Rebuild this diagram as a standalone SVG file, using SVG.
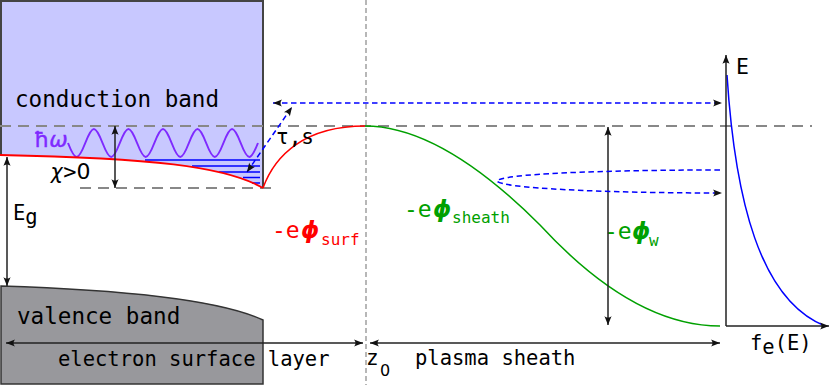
<svg xmlns="http://www.w3.org/2000/svg" width="831" height="385" viewBox="0 0 831 385">
<defs>
<marker id="ah" viewBox="-10 -5 12 10" refX="0" refY="0" markerWidth="12" markerHeight="10" markerUnits="userSpaceOnUse" orient="auto-start-reverse" overflow="visible">
<path d="M0,0 L-9,-3.6 C-7,-1.5 -7,1.5 -9,3.6 Z" fill="#111"/>
</marker>
</defs>
<style>
.mono{font-family:"DejaVu Sans Mono","Liberation Mono",monospace;}
.sans{font-family:"DejaVu Sans","Liberation Sans",sans-serif;}
.phi{font-family:"DejaVu Sans","Liberation Sans",sans-serif;font-weight:bold;font-style:italic;}
.gd{fill:none;stroke:#888;stroke-width:2;stroke-dasharray:11,7;}
.bd{fill:none;stroke:#0000ff;stroke-width:1.5;stroke-dasharray:5.5,3.5;}
.ar{fill:none;stroke:#222;stroke-width:1.5;}
.both{marker-start:url(#ah);marker-end:url(#ah);}
.end{marker-end:url(#ah);}
.red{fill:#ff0000;}
.green{fill:#00a000;}
</style>
<rect width="831" height="385" fill="#ffffff"/>

<g id="conduction-band">
<path d="M1,1 H263 V188 C225,166 150,158 1,155 Z" fill="#c8c8ff"/>
<path d="M1,155 V1 H263 V188" fill="none" stroke="#444" stroke-width="2"/>
<text class="mono" x="15" y="107" font-size="22.6">conduction band</text>
</g>

<g id="valence-band">
<path d="M1,286 C130,290 220,300 263,320 V384 H1 Z" fill="#98989c" stroke="#333" stroke-width="1.5"/>
<text class="mono" x="17" y="324" font-size="22.6">valence band</text>
</g>

<g id="reference-lines">
<path class="gd" d="M0,126 H812"/>
<path class="gd" d="M80,188 H272"/>
<path d="M366,0 V385" fill="none" stroke="#888" stroke-width="1.2" stroke-dasharray="5,3"/>
</g>

<g id="photon">
<path d="M68,143 c7.33,18.67 9.94,18.67 17.27,0 c7.33,-18.67 9.94,-18.67 17.27,0 c7.33,18.67 9.94,18.67 17.27,0 c7.33,-18.67 9.94,-18.67 17.27,0 c7.33,18.67 9.94,18.67 17.27,0 c7.33,-18.67 9.94,-18.67 17.27,0 c7.33,18.67 9.94,18.67 17.27,0 c7.33,-18.67 9.94,-18.67 17.27,0 c7.33,18.67 9.94,18.67 17.27,0 c7.33,-18.67 9.94,-18.67 17.27,0 c7.33,18.67 9.94,18.67 17.27,0" fill="none" stroke="#7f2aff" stroke-width="2"/>
<text class="sans" x="34" y="147" font-size="22" fill="#7f2aff" stroke="#7f2aff" stroke-width="0.4">ħ<tspan font-style="italic">ω</tspan></text>
</g>

<g id="surface-states">
<path d="M145,160 H260 M192,166 H260 M219,172 H260 M243,177.5 H260 M252,183 H260" fill="none" stroke="#0000ff" stroke-width="1.5"/>
</g>

<g id="surface-potential">
<path d="M0,155 C150,158 225,166 263,188" fill="none" stroke="#ff0000" stroke-width="1.8"/>
<path d="M263,188 C275,155 305,126 365,126" fill="none" stroke="#ff0000" stroke-width="1.5"/>
<text x="272" y="238" font-size="23" class="red"><tspan class="mono">-e</tspan><tspan class="phi" x="301">ϕ</tspan><tspan class="mono" x="321" y="245" font-size="16">surf</tspan></text>
</g>

<g id="sheath-potential">
<path d="M365,126 C420,126 480,165 540,225 C600,290 660,326 720,326" fill="none" stroke="#00a000" stroke-width="1.5"/>
<text x="404" y="217" font-size="23" class="green"><tspan class="mono">-e</tspan><tspan class="phi" x="433">ϕ</tspan><tspan class="mono" x="452" y="223" font-size="16">sheath</tspan></text>
</g>

<g id="distribution">
<path d="M727,75 C735,200 760,300 825,326" fill="none" stroke="#0000ff" stroke-width="1.5"/>
<text class="mono" x="736" y="74" font-size="21.5">E</text>
<text class="mono" x="750" y="350" font-size="20.5">f<tspan dy="4">e</tspan><tspan dy="-4">(E)</tspan></text>
</g>

<g id="labels">
<text class="mono" x="50" y="179" font-size="22"><tspan font-style="italic">χ</tspan>&gt;<tspan class="sans">0</tspan></text>
<text class="mono" x="13" y="220" font-size="20.5">E<tspan dy="4">g</tspan></text>
<text class="mono" x="276" y="144" font-size="21">τ,s</text>
<text x="604" y="239" font-size="23" class="green"><tspan class="mono">-e</tspan><tspan class="phi" x="632">ϕ</tspan><tspan class="mono" x="649" y="246" font-size="16">w</tspan></text>
<text class="mono" x="58" y="366" font-size="20.5">electron surface layer</text>
<text class="mono" x="366" y="365" font-size="21">z<tspan class="sans" x="380" dy="11" font-size="16">0</tspan></text>
<text class="mono" x="415" y="365" font-size="20.5">plasma sheath</text>
</g>

<g id="connectors">
<path class="ar both" d="M7,157 V286"/>
<path class="ar both" d="M115,126 V188"/>
<path class="ar both" d="M608,127 V325"/>
<path class="ar both" d="M6,343 H363"/>
<path class="ar both" d="M370,343 H720"/>
<path class="ar end" d="M726,326 V55"/>
<path class="ar end" d="M726,326 H829"/>
<path class="bd both" d="M247,172 L292,107"/>
<path class="bd both" d="M273,103 H722"/>
<path class="bd end" d="M720,170 C600,170 500,174 497,181 C500,188 600,193 722,193"/>
</g>
</svg>
